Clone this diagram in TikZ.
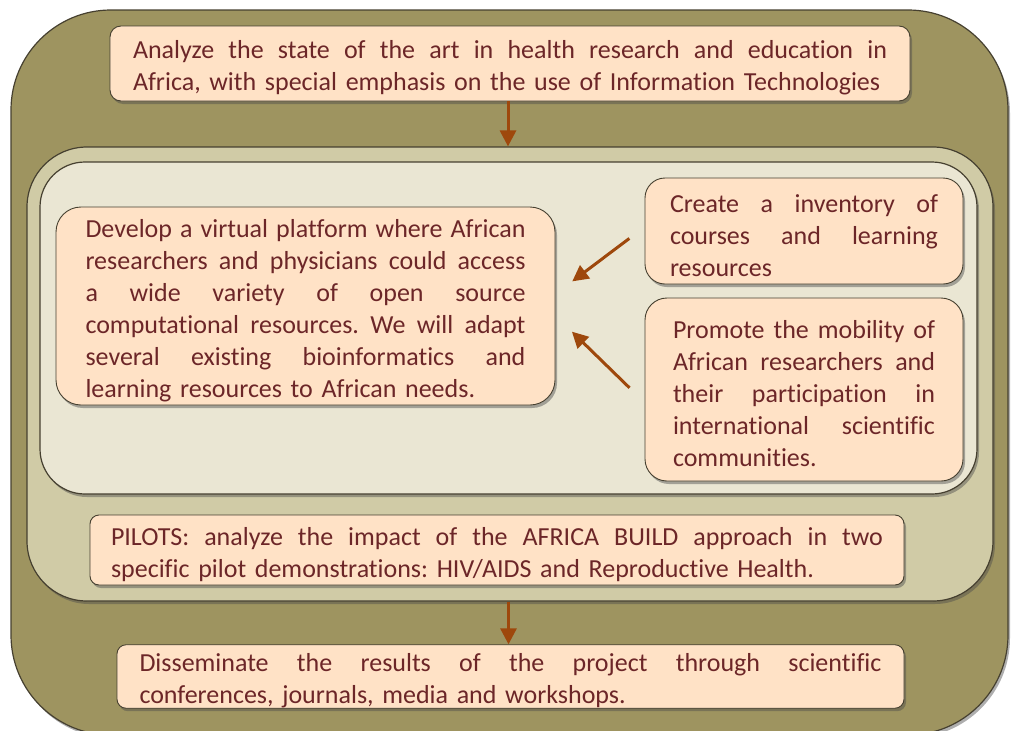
\documentclass[tikz,border=0pt]{standalone}
\usepackage{fontspec}
\setmainfont{Carlito}[Ligatures=NoCommon]
\usetikzlibrary{arrows.meta,shadows}
\definecolor{outerfill}{RGB}{158,148,96}
\definecolor{midfill}{RGB}{208,203,166}
\definecolor{innerfill}{RGB}{234,230,211}
\definecolor{boxfill}{RGB}{255,226,198}
\definecolor{edgecol}{RGB}{70,64,48}
\definecolor{txtcol}{RGB}{108,38,40}
\definecolor{arrcol}{RGB}{158,72,12}
\newcommand\jl[1]{\leavevmode\hbox to \hsize{\spaceskip=\fontdimen2\font plus 1fil\relax #1}\\}
\frenchspacing
\tikzset{
  shad/.style={drop shadow={shadow xshift=2pt,shadow yshift=-3pt,opacity=0.45,fill=black!70}},
  container/.style={draw=edgecol,line width=1.2pt,inner sep=0pt,shad},
  textbox/.style={draw=edgecol,line width=0.9pt,fill=boxfill,inner sep=0pt,shad,
    text=txtcol,align=left,font=\fontsize{26}{32}\selectfont,
    execute at begin node={\rule{0pt}{27pt}}},
  arr/.style={draw=arrcol,line width=3pt,-{Triangle[length=16pt,width=16pt]}}
}
\begin{document}
\begin{tikzpicture}[x=1pt,y=-1pt]
\useasboundingbox (0,0) rectangle (1013,731);
% containers
\node[container,fill=outerfill,rounded corners=100pt,minimum width=997pt,minimum height=725pt] (outer) at (509.5,372.5) {};
\node[container,fill=midfill,rounded corners=60pt,minimum width=966pt,minimum height=454pt] (mid) at (510,374) {};
\node[container,fill=innerfill,rounded corners=45pt,minimum width=937pt,minimum height=332pt] (inner) at (508.5,328) {};
% text boxes
\node[textbox,rounded corners=11pt,minimum width=800pt,minimum height=75pt,text width=754pt] (top) at (510,63.5)
  {\jl{Analyze the state of the art in health research and education in}Africa, with special emphasis on the use of Information Technologies};
\node[textbox,rounded corners=25pt,minimum width=499pt,minimum height=198pt,text width=440pt] (lb) at (305.5,306)
  {\jl{Develop a virtual platform where African}\jl{researchers and physicians could access}\jl{a wide variety of open source}\jl{computational resources. We will adapt}\jl{several existing bioinformatics and}learning resources to African needs.};
\node[textbox,rounded corners=20pt,minimum width=318pt,minimum height=106pt,text width=268pt] (rt) at (804,231)
  {\jl{Create a inventory of}\jl{courses and learning}resources};
\node[textbox,rounded corners=22pt,minimum width=318pt,minimum height=183pt,text width=262pt] (rb) at (804,389.5)
  {\jl{Promote the mobility of}\jl{African researchers and}\jl{their participation in}\jl{international scientific}communities.};
\node[textbox,rounded corners=9pt,minimum width=814pt,minimum height=70pt,text width=772pt] (pil) at (497,550)
  {\jl{PILOTS: analyze the impact of the AFRICA BUILD approach in two}specific pilot demonstrations: HIV/AIDS and Reproductive Health.};
\node[textbox,rounded corners=9pt,minimum width=787pt,minimum height=59pt,text width=742pt] (bot) at (510.5,676.5)
  {\jl{Disseminate the results of the project through scientific}conferences, journals, media and workshops.};
% connectors
\draw[arr] ([xshift=-2pt]top.south) -- ([xshift=-2pt]top.south |- mid.north);
\draw[arr] ([xshift=-2pt]bot.north |- mid.south) -- ([xshift=-2pt]bot.north);
\draw[arr,shorten <=19pt,shorten >=21pt] ([yshift=4pt]rt.west) -- ([yshift=12pt]lb.east);
\draw[arr,shorten <=21pt,shorten >=23pt] ([yshift=-13pt]rb.west) -- ([yshift=-9.6pt]lb.east);
\end{tikzpicture}
\end{document}
